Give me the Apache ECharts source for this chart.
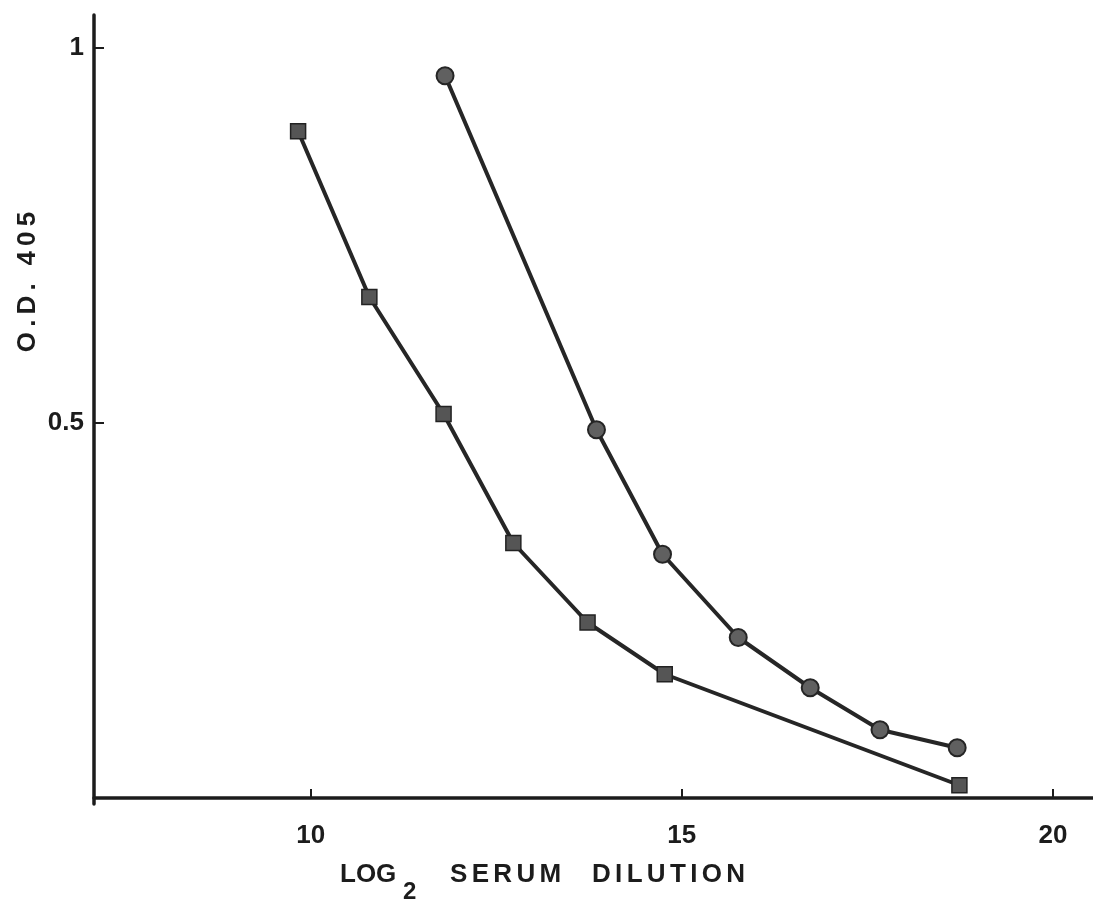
<!DOCTYPE html>
<html>
<head>
<meta charset="utf-8">
<script src="https://cdn.jsdelivr.net/npm/echarts@6/dist/echarts.min.js"></script>
<style>
html,body{margin:0;padding:0;background:#fff;}
#chart{width:1093px;height:905px;}
</style>
</head>
<body>
<div id="chart"></div>
<script>
// Data
const squareX = [9.83, 10.79, 11.79, 12.73, 13.73, 14.77, 18.74];
const squareY = [0.889, 0.668, 0.512, 0.340, 0.234, 0.165, 0.017];
const circleX = [11.81, 13.85, 14.74, 15.76, 16.73, 17.67, 18.71];
const circleY = [0.963, 0.491, 0.325, 0.214, 0.147, 0.091, 0.067];
const xTicks = [10, 15, 20];
const yTicks = [0.5, 1];
const yTickLabels = ['0.5', '1'];
const xTitleParts = ['LOG', '2', 'SERUM', 'DILUTION'];
const yTitle = 'O.D. 405';

function spaced(s, sp) { return s.split('').join(sp); }

const chart = echarts.init(document.getElementById('chart'));
const ink = '#1c1c1c';
const fontFam = '"Liberation Sans", Arial, Helvetica, sans-serif';

chart.setOption({
  animation: false,
  backgroundColor: '#ffffff',
  grid: { left: 94, right: 0, top: 15, bottom: 101 },
  xAxis: {
    type: 'value', min: 7.08, max: 20.54,
    splitLine: { show: false },
    axisLine: { show: true, lineStyle: { color: ink, width: 3.5 } },
    axisTick: { show: true, inside: true, length: 9, customValues: xTicks, lineStyle: { color: ink, width: 2 } },
    axisLabel: { show: true, customValues: xTicks, margin: 19, color: ink, fontSize: 26, fontWeight: 'bold', fontFamily: fontFam }
  },
  yAxis: {
    type: 'value', min: -0.008, max: 1.044,
    splitLine: { show: false },
    axisLine: { show: true, lineStyle: { color: ink, width: 3.5 } },
    axisTick: { show: true, inside: true, length: 10, customValues: yTicks, lineStyle: { color: ink, width: 2 } },
    axisLabel: {
      show: true, customValues: yTicks, margin: 10, color: ink, fontSize: 26, fontWeight: 'bold', fontFamily: fontFam,
      formatter: v => yTickLabels[yTicks.indexOf(v)] ?? ''
    }
  },
  series: [
    {
      type: 'line',
      data: squareX.map((x, i) => [x, squareY[i]]),
      symbol: 'rect', symbolSize: 15,
      lineStyle: { color: '#262626', width: 4 },
      itemStyle: { color: '#555555', borderColor: '#222222', borderWidth: 1.5 },
      z: 3
    },
    {
      type: 'line',
      data: circleX.map((x, i) => [x, circleY[i]]),
      symbol: 'circle', symbolSize: 17,
      lineStyle: { color: '#262626', width: 4 },
      itemStyle: { color: '#606060', borderColor: '#252525', borderWidth: 2 },
      z: 3
    }
  ],
  graphic: [
    { type: 'text', x: 28, y: 282, rotation: Math.PI / 2,
      style: { text: spaced(yTitle, '\u2009'), font: 'bold 26px ' + fontFam, fill: ink, align: 'center', verticalAlign: 'middle' } },
    { type: 'text', x: 340, y: 875,
      style: { text: xTitleParts[0], font: 'bold 26px ' + fontFam, fill: ink, align: 'left', verticalAlign: 'middle' } },
    { type: 'text', x: 403, y: 892,
      style: { text: xTitleParts[1], font: 'bold 24px ' + fontFam, fill: ink, align: 'left', verticalAlign: 'middle' } },
    { type: 'text', x: 450, y: 875,
      style: { text: spaced(xTitleParts[2], '\u2006'), font: 'bold 26px ' + fontFam, fill: ink, align: 'left', verticalAlign: 'middle' } },
    { type: 'text', x: 592, y: 875,
      style: { text: spaced(xTitleParts[3], '\u2006'), font: 'bold 26px ' + fontFam, fill: ink, align: 'left', verticalAlign: 'middle' } }
  ]
});
</script>
</body>
</html>
